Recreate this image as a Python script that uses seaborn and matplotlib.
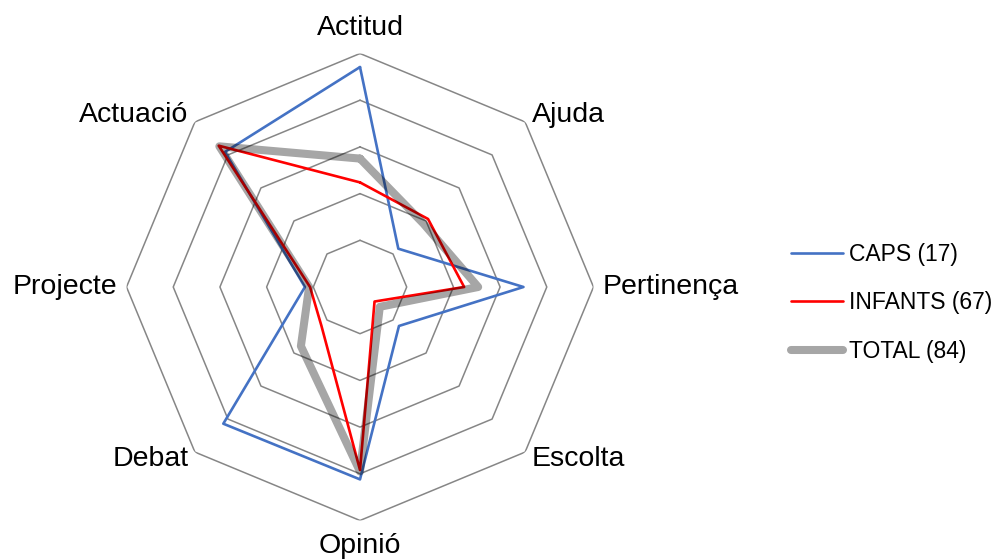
import numpy as np
import pandas as pd
import seaborn as sns
import matplotlib.pyplot as plt

categories = ['Actitud', 'Ajuda', 'Pertinença', 'Escolta', 'Opinió', 'Debat', 'Projecte', 'Actuació']
caps = [4.71, 1.16, 3.50, 1.18, 4.12, 4.14, 1.18, 4.09]
infants = [2.24, 2.06, 2.23, 0.44, 3.92, 1.17, 1.07, 4.28]
total = [2.75, 1.92, 2.53, 0.60, 3.95, 1.79, 1.09, 4.26]
series_names = ['CAPS (17)', 'INFANTS (67)', 'TOTAL (84)']
rings = [1, 2, 3, 4, 5]

sns.set_theme(style='white')
plt.rcParams['font.family'] = ['Liberation Sans', 'DejaVu Sans']
plt.rcParams['text.color'] = 'black'

angles = np.arange(len(categories)) * 2 * np.pi / len(categories)
closed = np.append(angles, angles[0])

fig = plt.figure(figsize=(10.01, 5.6), dpi=100)
ax = fig.add_axes([0.1264, 0.0705, 0.4665, 0.834], projection='polar')
ax.set_theta_zero_location('N')
ax.set_theta_direction(-1)
ax.set_ylim(0, 5)
ax.grid(False)
ax.set_xticks([])
ax.set_yticks([])
ax.spines['polar'].set_visible(False)

# octagonal grid
for r in rings:
    ax.plot(closed, [r] * len(closed), color='#868686', lw=1.1, zorder=1)

styles = {
    'CAPS (17)': dict(color='#4472C4', lw=1.9, alpha=1.0),
    'INFANTS (67)': dict(color='#FF0000', lw=1.9, alpha=1.0),
    'TOTAL (84)': dict(color='black', lw=5.8, alpha=0.35),
}

for name, vals in zip(series_names, [caps, infants, total]):
    df = pd.DataFrame({'theta': closed, 'r': vals + vals[:1]})
    st = styles[name]
    sns.lineplot(data=df, x='theta', y='r', sort=False, estimator=None, ax=ax,
                 color=st['color'], lw=st['lw'], alpha=st['alpha'], label=name,
                 solid_capstyle='round', solid_joinstyle='round', zorder=3)

ax.set_xlabel('')
ax.set_ylabel('')

for ang, lab in zip(angles, categories):
    s = np.sin(ang)
    if abs(s) < 1e-6:
        ax.text(ang, 5.55, lab, ha='center', va='center', fontsize=20.5, color='black')
    else:
        ax.text(ang, 5.2, lab, ha='left' if s > 0 else 'right', va='center',
                fontsize=20.5, color='black')

leg = ax.legend(loc='center left', bbox_to_anchor=(791 / 1001, 1 - 303 / 560),
                bbox_transform=fig.transFigure, frameon=False, fontsize=16.5,
                handlelength=2.25, handletextpad=0.3, labelspacing=1.12,
                borderpad=0, borderaxespad=0)
for t in leg.get_texts():
    t.set_color('black')

fig.savefig('out.png', dpi=100, facecolor='white')
